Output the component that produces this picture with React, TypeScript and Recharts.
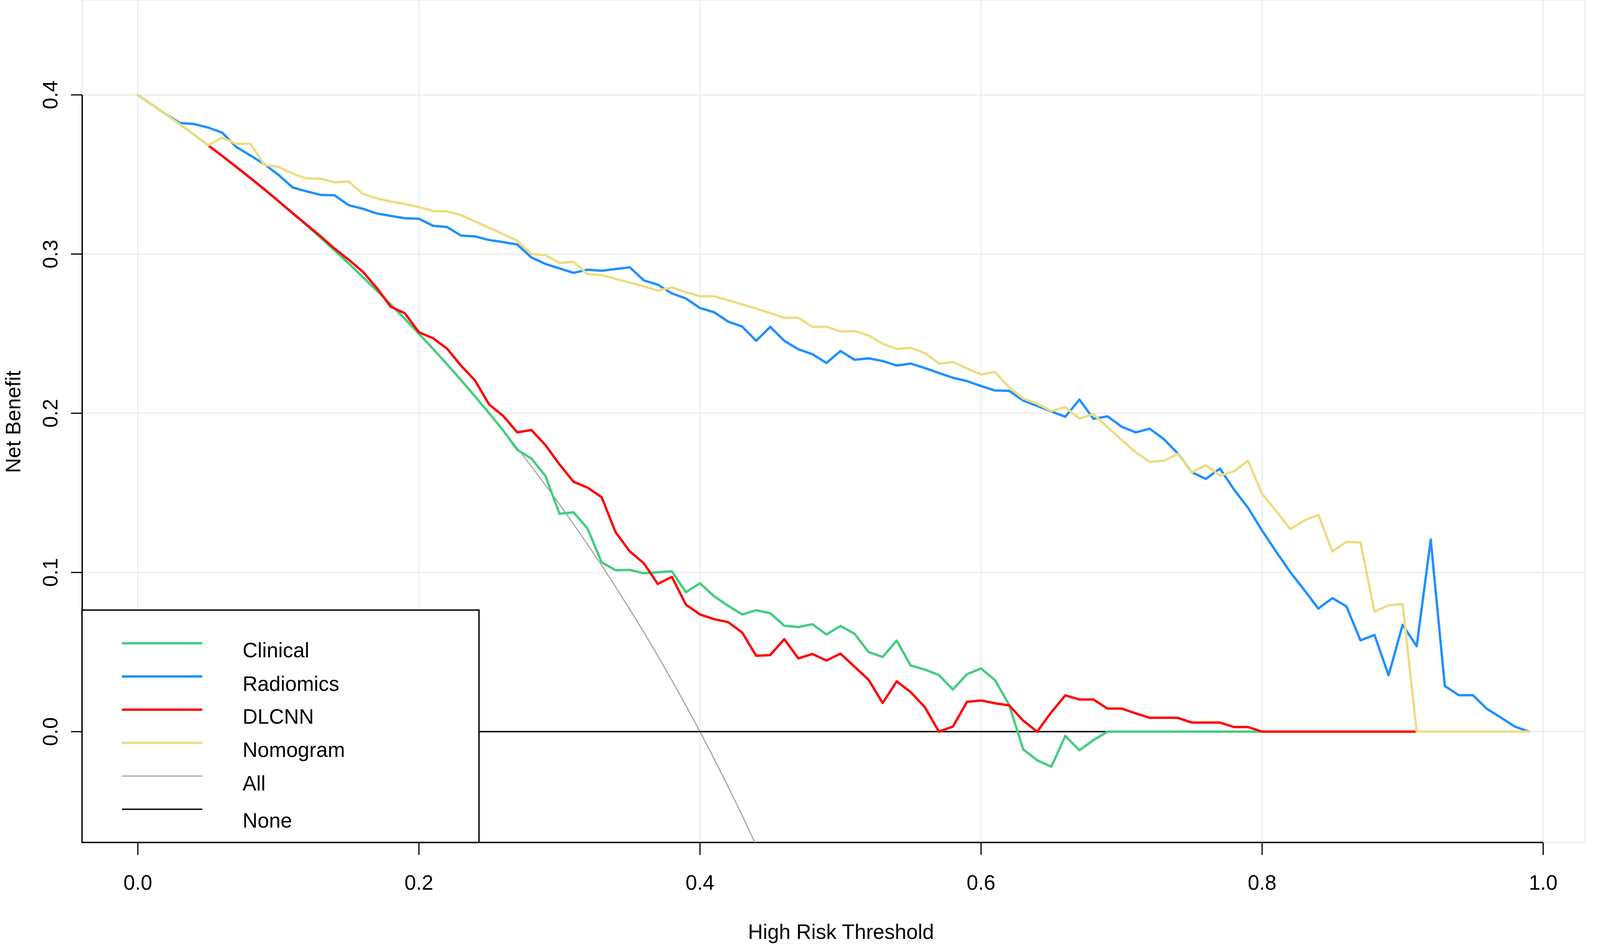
import React from 'react';
import { LineChart, Line, XAxis, YAxis, CartesianGrid, ReferenceLine, Legend, Label } from 'recharts';

const FONT = '"Liberation Sans", Arial, Helvetica, sans-serif';

// threshold probabilities (x)
const THRESHOLDS = [
  0.00, 0.01, 0.02, 0.03, 0.04, 0.05, 0.06, 0.07, 0.08, 0.09,
  0.10, 0.11, 0.12, 0.13, 0.14, 0.15, 0.16, 0.17, 0.18, 0.19,
  0.20, 0.21, 0.22, 0.23, 0.24, 0.25, 0.26, 0.27, 0.28, 0.29,
  0.30, 0.31, 0.32, 0.33, 0.34, 0.35, 0.36, 0.37, 0.38, 0.39,
  0.40, 0.41, 0.42, 0.43, 0.44, 0.45, 0.46, 0.47, 0.48, 0.49,
  0.50, 0.51, 0.52, 0.53, 0.54, 0.55, 0.56, 0.57, 0.58, 0.59,
  0.60, 0.61, 0.62, 0.63, 0.64, 0.65, 0.66, 0.67, 0.68, 0.69,
  0.70, 0.71, 0.72, 0.73, 0.74, 0.75, 0.76, 0.77, 0.78, 0.79,
  0.80, 0.81, 0.82, 0.83, 0.84, 0.85, 0.86, 0.87, 0.88, 0.89,
  0.90, 0.91, 0.92, 0.93, 0.94, 0.95, 0.96, 0.97, 0.98, 0.99,
];

const CLINICAL = [
  0.4, 0.3939, 0.3878, 0.3814, 0.375, 0.3684, 0.3617, 0.3548, 0.3478, 0.3407,
  0.3333, 0.3258, 0.3182, 0.3103, 0.3023, 0.2941, 0.2857, 0.2771, 0.2683, 0.2593,
  0.25, 0.2405, 0.2308, 0.2208, 0.2105, 0.2, 0.1892, 0.177, 0.1716, 0.1607,
  0.1369, 0.1378, 0.1276, 0.1064, 0.1014, 0.1016, 0.0995, 0.1001, 0.1007, 0.0876,
  0.0932, 0.0851, 0.0791, 0.0736, 0.0763, 0.0744, 0.0665, 0.0657, 0.0675, 0.061,
  0.0664, 0.0615, 0.05, 0.0469, 0.0572, 0.0415, 0.039, 0.0356, 0.0265, 0.0361,
  0.0397, 0.0323, 0.0168, -0.0111, -0.018, -0.022, -0.0027, -0.0117, -0.0053, 0,
  0, 0, 0, 0, 0, 0, 0, 0, 0, 0,
  0, null, null, null, null, null, null, null, null, null,
  null, null, null, null, null, null, null, null, null, null,
];

const RADIOMICS = [
  0.4, 0.3939, 0.3878, 0.3823, 0.3817, 0.3795, 0.3763, 0.3673, 0.362, 0.3565,
  0.3498, 0.3419, 0.3394, 0.3372, 0.3369, 0.3307, 0.3285, 0.3255, 0.324, 0.3225,
  0.3222, 0.3178, 0.317, 0.3116, 0.3111, 0.3088, 0.3075, 0.306, 0.2979, 0.2938,
  0.291, 0.2882, 0.2902, 0.2895, 0.2906, 0.2917, 0.2835, 0.2808, 0.2753, 0.2721,
  0.2661, 0.2635, 0.2576, 0.2545, 0.2455, 0.2543, 0.2455, 0.2402, 0.2371, 0.2316,
  0.2391, 0.2336, 0.2345, 0.2328, 0.23, 0.2312, 0.2284, 0.2253, 0.2223, 0.2202,
  0.2171, 0.2143, 0.2141, 0.208, 0.2046, 0.2012, 0.1978, 0.2086, 0.1965, 0.1981,
  0.1916, 0.188, 0.1903, 0.1838, 0.1748, 0.1629, 0.1588, 0.1653, 0.1521, 0.1406,
  0.1263, 0.1131, 0.1003, 0.089, 0.0773, 0.0839, 0.0787, 0.0574, 0.0607, 0.0354,
  0.0671, 0.0537, 0.1206, 0.0287, 0.0229, 0.0229, 0.0143, 0.0088, 0.0031, 0,
];

const DLCNN = [
  null, null, null, null, null, 0.3683, 0.3617, 0.3548, 0.3478, 0.3407,
  0.3333, 0.3258, 0.3185, 0.3112, 0.3034, 0.2965, 0.289, 0.2788, 0.2669, 0.2628,
  0.2509, 0.2472, 0.2406, 0.2299, 0.2205, 0.2055, 0.1983, 0.188, 0.1895, 0.1801,
  0.1679, 0.157, 0.1533, 0.1473, 0.1252, 0.1133, 0.1058, 0.0928, 0.0972, 0.0798,
  0.0736, 0.0707, 0.0688, 0.0623, 0.0477, 0.0481, 0.0581, 0.046, 0.0488, 0.0447,
  0.049, 0.0408, 0.0326, 0.018, 0.0316, 0.0248, 0.0154, 0, 0.0032, 0.0187,
  0.0196, 0.0178, 0.0165, 0.0069, 0, 0.0122, 0.0228, 0.0202, 0.0202, 0.0145,
  0.0145, 0.0115, 0.0087, 0.0087, 0.0087, 0.0057, 0.0057, 0.0057, 0.0029, 0.0029,
  0, 0, 0, 0, 0, 0, 0, 0, 0, 0,
  0, 0, null, null, null, null, null, null, null, null,
];

const NOMOGRAM = [
  0.4, 0.3939, 0.3878, 0.3814, 0.375, 0.3683, 0.3732, 0.3692, 0.3694, 0.356,
  0.3548, 0.3506, 0.3475, 0.3474, 0.3451, 0.3455, 0.3379, 0.335, 0.333, 0.3315,
  0.3295, 0.327, 0.3268, 0.3245, 0.3205, 0.3165, 0.3125, 0.3084, 0.3, 0.2994,
  0.2944, 0.2951, 0.2874, 0.2868, 0.2844, 0.2821, 0.2797, 0.2771, 0.279, 0.276,
  0.2735, 0.2735, 0.271, 0.2684, 0.2658, 0.2629, 0.26, 0.26, 0.2542, 0.2544,
  0.2513, 0.2517, 0.2488, 0.2437, 0.2404, 0.2411, 0.2378, 0.2312, 0.2322, 0.2281,
  0.2244, 0.2259, 0.2162, 0.2093, 0.2059, 0.2015, 0.2038, 0.1967, 0.1995, 0.1912,
  0.1833, 0.1756, 0.1695, 0.1702, 0.1745, 0.1629, 0.1674, 0.1608, 0.1636, 0.1702,
  0.1493, 0.1386, 0.1272, 0.1326, 0.1362, 0.1132, 0.1192, 0.1189, 0.0753, 0.0794,
  0.0802, 0, 0, 0, 0, 0, 0, 0, 0, 0,
];

// treat all (runs off the bottom of the plot after ~0.44)
const ALL = [
  0.4, 0.3939, 0.3878, 0.3814, 0.375, 0.3684, 0.3617, 0.3548, 0.3478, 0.3407,
  0.3333, 0.3258, 0.3182, 0.3103, 0.3023, 0.2941, 0.2857, 0.2771, 0.2683, 0.2593,
  0.25, 0.2405, 0.2308, 0.2208, 0.2105, 0.2, 0.1892, 0.1781, 0.1667, 0.1549,
  0.1429, 0.1304, 0.1176, 0.1045, 0.0909, 0.0769, 0.0625, 0.0476, 0.0323, 0.0164,
  0, -0.0169, -0.0345, -0.0526, -0.0714, -0.0909,
];

// treat none
const NONE = [
  0, 0, 0, 0, 0, 0, 0, 0, 0, 0,
  0, 0, 0, 0, 0, 0, 0, 0, 0, 0,
  0, 0, 0, 0, 0, 0, 0, 0, 0, 0,
  0, 0, 0, 0, 0, 0, 0, 0, 0, 0,
  0, 0, 0, 0, 0, 0, 0, 0, 0, 0,
  0, 0, 0, 0, 0, 0, 0, 0, 0, 0,
  0, 0, 0, 0, 0, 0, 0, 0, 0, 0,
  0, 0, 0, 0, 0, 0, 0, 0, 0, 0,
  0, 0, 0, 0, 0, 0, 0, 0, 0, 0,
  0, 0, 0, 0, 0, 0, 0, 0, 0, 0,
];

const X_TICKS = [0, 0.2, 0.4, 0.6, 0.8, 1.0];
const Y_TICKS = [0, 0.1, 0.2, 0.3, 0.4];
const X_DOMAIN = [-0.0396, 1.0296];
const Y_DOMAIN = [-0.0696, 0.4596];

// legend order / styles
const SERIES = [
  { key: 'clinical', name: 'Clinical', color: '#43CD80', width: 6 },
  { key: 'radiomics', name: 'Radiomics', color: '#1E90FF', width: 6 },
  { key: 'dlcnn', name: 'DLCNN', color: '#FF0000', width: 6 },
  { key: 'nomogram', name: 'Nomogram', color: '#EEDC82', width: 6 },
  { key: 'all', name: 'All', color: '#A6A6A6', width: 3 },
  { key: 'none', name: 'None', color: '#000000', width: 3.5 },
];
const LEGEND_TEXT_Y = [123, 209, 293, 378, 464, 559];

const rows = THRESHOLDS.map((t, i) => ({
  x: t,
  clinical: CLINICAL[i],
  radiomics: RADIOMICS[i],
  dlcnn: DLCNN[i],
  nomogram: NOMOGRAM[i],
  all: ALL[i] ?? null,
  none: NONE[i],
}));

// the headless window is narrower than the reference (4096 vs 4724),
// so horizontal layout is laid out in reference units and scaled by K
const REF_W = 4724;
const H = 2417;
const W = Math.min(REF_W, (typeof window !== 'undefined' && window.innerWidth) || REF_W);
const K = W / REF_W;

const XTick = ({ x, y, payload }: any) => (
  <text x={x} y={y + 87} textAnchor="middle" fontSize={53} fontFamily={FONT} fill="#000">
    {Number(payload.value).toFixed(1)}
  </text>
);

const YTick = ({ y, payload }: any) => {
  const bx = 170 * K;
  return (
    <text
      x={bx}
      y={y}
      textAnchor="middle"
      fontSize={53}
      fontFamily={FONT}
      fill="#000"
      transform={`rotate(-90, ${bx}, ${y})`}
    >
      {Number(payload.value).toFixed(1)}
    </text>
  );
};

const LegendBox = () => {
  const bw = 1172 * K;
  return (
    <svg width={bw + 4} height={599} style={{ display: 'block' }}>
      <rect x={2} y={2} width={bw} height={595} fill="#fff" stroke="#000" strokeWidth={3.5} />
      {SERIES.map((s, i) => (
        <g key={s.key}>
          <line
            x1={2 + 118 * K}
            x2={2 + 355 * K}
            y1={87 + i * 85}
            y2={87 + i * 85}
            stroke={s.color}
            strokeWidth={s.width}
          />
          <text x={2 + 474 * K} y={LEGEND_TEXT_Y[i]} fontSize={53} fontFamily={FONT} fill="#000">
            {s.name}
          </text>
        </g>
      ))}
    </svg>
  );
};

export default function App() {
  const lineProps = {
    type: 'linear' as const,
    dot: false,
    activeDot: false,
    isAnimationActive: false,
    strokeLinejoin: 'round' as const,
    strokeLinecap: 'round' as const,
  };
  return (
    <div style={{ position: 'absolute', left: 0, top: 0, background: '#fff', fontFamily: FONT }}>
      <LineChart width={W} height={H} data={rows} margin={{ top: 0, right: 45 * K, bottom: 0, left: 0 }}>
        <CartesianGrid stroke="#EBEBEB" strokeWidth={3} />
        <XAxis
          dataKey="x"
          type="number"
          domain={X_DOMAIN}
          ticks={X_TICKS}
          interval={0}
          allowDataOverflow
          height={260}
          tickSize={32}
          axisLine={false}
          tickLine={{ stroke: '#000', strokeWidth: 3 }}
          tick={(p: any) => <XTick {...p} />}
        >
          <Label
            content={() => (
              <text x={2483 * K} y={2404} textAnchor="middle" fontSize={53} fontFamily={FONT} fill="#000">
                High Risk Threshold
              </text>
            )}
          />
        </XAxis>
        <YAxis
          type="number"
          domain={Y_DOMAIN}
          ticks={Y_TICKS}
          interval={0}
          allowDataOverflow
          width={242.7 * K}
          tickSize={33 * K}
          axisLine={false}
          tickLine={{ stroke: '#000', strokeWidth: 3 }}
          tick={(p: any) => <YTick {...p} />}
        >
          <Label
            content={() => (
              <text
                x={52}
                y={1080}
                textAnchor="middle"
                fontSize={53}
                fontFamily={FONT}
                fill="#000"
                transform="rotate(-90, 52, 1080)"
              >
                Net Benefit
              </text>
            )}
          />
        </YAxis>
        <ReferenceLine
          segment={[{ x: 0, y: Y_DOMAIN[0] }, { x: 1, y: Y_DOMAIN[0] }]}
          stroke="#000"
          strokeWidth={3.5}
          ifOverflow="visible"
        />
        <ReferenceLine
          segment={[{ x: X_DOMAIN[0], y: 0 }, { x: X_DOMAIN[0], y: 0.4 }]}
          stroke="#000"
          strokeWidth={3.5}
          ifOverflow="visible"
        />
        <Line {...lineProps} dataKey="all" name="All" stroke="#A6A6A6" strokeWidth={3} />
        <Line {...lineProps} dataKey="none" name="None" stroke="#000000" strokeWidth={3.5} />
        <Line {...lineProps} dataKey="clinical" name="Clinical" stroke="#43CD80" strokeWidth={6} />
        <Line {...lineProps} dataKey="radiomics" name="Radiomics" stroke="#1E90FF" strokeWidth={6} />
        <Line {...lineProps} dataKey="dlcnn" name="DLCNN" stroke="#FF0000" strokeWidth={6} />
        <Line {...lineProps} dataKey="nomogram" name="Nomogram" stroke="#EEDC82" strokeWidth={6} />
        <Legend
          layout="vertical"
          align="center"
          verticalAlign="middle"
          wrapperStyle={{ left: 242 * K - 2, top: 1560, width: 1172 * K + 4, height: 599, margin: 0 }}
          content={() => <LegendBox />}
        />
      </LineChart>
    </div>
  );
}
